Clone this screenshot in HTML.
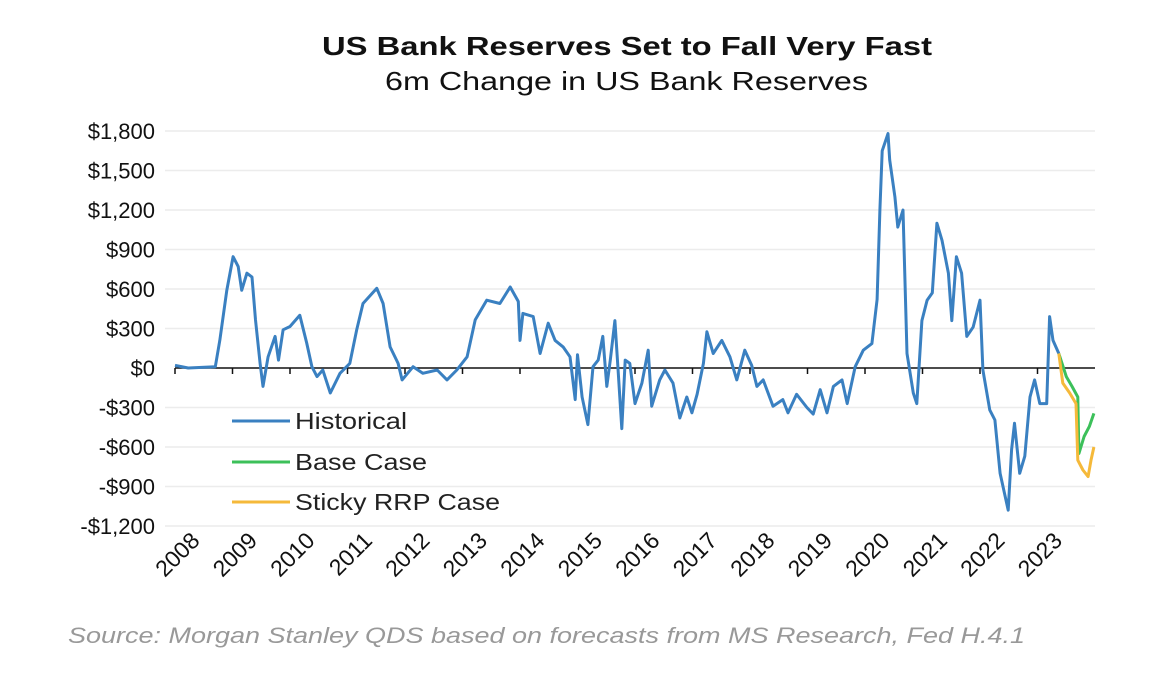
<!DOCTYPE html>
<html><head><meta charset="utf-8"><style>
body{margin:0;background:#fff;}
svg{display:block;font-family:"Liberation Sans",Arial,sans-serif;}
</style></head><body>
<svg id="chart" width="1165" height="681" viewBox="0 0 1165 681">
<text x="322" y="55" textLength="610" lengthAdjust="spacingAndGlyphs" font-size="26" font-weight="bold" fill="#111">US Bank Reserves Set to Fall Very Fast</text>
<text x="385" y="90" textLength="483" lengthAdjust="spacingAndGlyphs" font-size="26" fill="#111">6m Change in US Bank Reserves</text>
<g id="grid"></g><g id="yaxis"></g><g id="xaxis"></g><g id="series"></g>
<g>
<line x1="232" y1="421" x2="290" y2="421" stroke="#3a80c1" stroke-width="3"/>
<text x="295" y="429" textLength="112" lengthAdjust="spacingAndGlyphs" font-size="23" fill="#222">Historical</text>
<line x1="232" y1="462" x2="290" y2="462" stroke="#3cc05a" stroke-width="3"/>
<text x="295" y="470" textLength="132" lengthAdjust="spacingAndGlyphs" font-size="23" fill="#222">Base Case</text>
<line x1="232" y1="502" x2="290" y2="502" stroke="#f5b93a" stroke-width="3"/>
<text x="295" y="510" textLength="205" lengthAdjust="spacingAndGlyphs" font-size="23" fill="#222">Sticky RRP Case</text>
</g>
<text x="68" y="643" textLength="957" lengthAdjust="spacingAndGlyphs" font-size="22" font-style="italic" fill="#999">Source: Morgan Stanley QDS based on forecasts from MS  Research, Fed H.4.1</text>
</svg>
<script>
const yTicks=[1800,1500,1200,900,600,300,0,-300,-600,-900,-1200];
const yTickLabels=["$1,800","$1,500","$1,200","$900","$600","$300","$0","-$300","-$600","-$900","-$1,200"];
const xYears=[2008,2009,2010,2011,2012,2013,2014,2015,2016,2017,2018,2019,2020,2021,2022,2023];
const histT=[2008.0,2008.23,2008.7,2008.78,2008.9,2009.01,2009.1,2009.16,2009.25,2009.34,2009.4,2009.48,2009.53,2009.62,2009.74,2009.8,2009.88,2010.0,2010.17,2010.29,2010.38,2010.47,2010.57,2010.7,2010.87,2011.04,2011.16,2011.27,2011.51,2011.62,2011.74,2011.88,2011.95,2012.14,2012.31,2012.56,2012.73,2012.9,2013.08,2013.22,2013.42,2013.65,2013.83,2013.97,2014.0,2014.05,2014.23,2014.35,2014.49,2014.61,2014.75,2014.87,2014.96,2015.0,2015.08,2015.18,2015.27,2015.36,2015.44,2015.51,2015.57,2015.65,2015.71,2015.77,2015.83,2015.91,2016.0,2016.12,2016.23,2016.29,2016.43,2016.52,2016.66,2016.78,2016.9,2016.99,2017.08,2017.19,2017.25,2017.36,2017.51,2017.65,2017.77,2017.91,2018.03,2018.12,2018.23,2018.4,2018.57,2018.66,2018.81,2018.99,2019.1,2019.22,2019.34,2019.45,2019.6,2019.69,2019.83,2019.97,2020.12,2020.21,2020.26,2020.3,2020.4,2020.43,2020.52,2020.57,2020.66,2020.73,2020.84,2020.9,2020.99,2021.08,2021.17,2021.25,2021.34,2021.45,2021.51,2021.59,2021.68,2021.77,2021.88,2022.0,2022.05,2022.17,2022.26,2022.35,2022.49,2022.55,2022.6,2022.69,2022.78,2022.87,2022.95,2023.04,2023.16,2023.21,2023.27,2023.37];
const histV=[20,0,10,210,590,845,770,590,720,690,365,35,-140,85,240,60,290,315,400,190,10,-65,-15,-190,-40,35,290,490,605,490,160,35,-90,10,-40,-15,-90,-15,85,365,515,490,615,505,210,415,390,110,340,210,160,85,-240,100,-220,-430,10,60,240,-140,60,360,-40,-460,60,35,-270,-115,135,-290,-90,-15,-115,-380,-220,-340,-200,35,275,110,210,85,-90,135,20,-140,-90,-290,-240,-340,-200,-300,-350,-165,-340,-140,-90,-270,10,135,185,520,1200,1650,1780,1580,1300,1070,1200,110,-190,-270,360,515,570,1100,970,720,360,845,720,240,310,515,-15,-320,-395,-800,-1080,-620,-420,-800,-670,-220,-90,-270,-270,390,210,110];
const baseT=[2023.37,2023.5,2023.6,2023.7,2023.72,2023.81,2023.9,2023.98];
const baseV=[110,-65,-140,-220,-650,-520,-445,-345];
const stickyT=[2023.37,2023.44,2023.56,2023.67,2023.7,2023.79,2023.88,2023.93,2023.98];
const stickyV=[110,-115,-190,-270,-700,-775,-825,-700,-600];

const NS="http://www.w3.org/2000/svg";
const X0=175,X1=1095,Y0=368,PXV=39.5/300;
function xs(t){return X0+(t-2008)*57.5;}
function ys(v){return Y0-v*PXV;}
function mk(tag,attrs,parent){const e=document.createElementNS(NS,tag);for(const k in attrs)e.setAttribute(k,attrs[k]);parent.appendChild(e);return e;}
const grid=document.getElementById('grid'),ya=document.getElementById('yaxis'),xa=document.getElementById('xaxis'),se=document.getElementById('series');
yTicks.forEach((v,i)=>{
  if(v!==0){const g=mk('line',{x1:165,x2:X1,y1:ys(v),y2:ys(v),stroke:'#ececec','stroke-width':1.5},grid);
  
  }
  const t=mk('text',{x:155,y:ys(v)+8,'text-anchor':'end','font-size':22,fill:'#111'},ya);
  t.textContent=yTickLabels[i];
  
  
});
const ax=mk('line',{x1:X0,x2:X1,y1:Y0,y2:Y0,stroke:'#111','stroke-width':1.5},xa);


xYears.forEach(yr=>{
  const x=xs(yr);
  const tk=mk('line',{x1:x,x2:x,y1:Y0,y2:Y0+6,stroke:'#111','stroke-width':1.5},xa);
  
  
  const t=mk('text',{x:x+26,y:542,'text-anchor':'end','font-size':23,fill:'#111',transform:`rotate(-45 ${x+26} 542)`},xa);
  t.textContent=yr;
  
  
});
function line(T,V,color,name){
  const d=T.map((t,i)=>(i?'L':'M')+xs(t).toFixed(1)+','+ys(V[i]).toFixed(1)).join('');
  const p=mk('path',{d:d,fill:'none',stroke:color,'stroke-width':3,'stroke-linejoin':'round'},se);
  
  
}
line(histT,histV,'#3a80c1','historical-line');
line(baseT,baseV,'#3cc05a','base-case-line');
line(stickyT,stickyV,'#f5b93a','sticky-rrp-line');
</script>
</body></html>
